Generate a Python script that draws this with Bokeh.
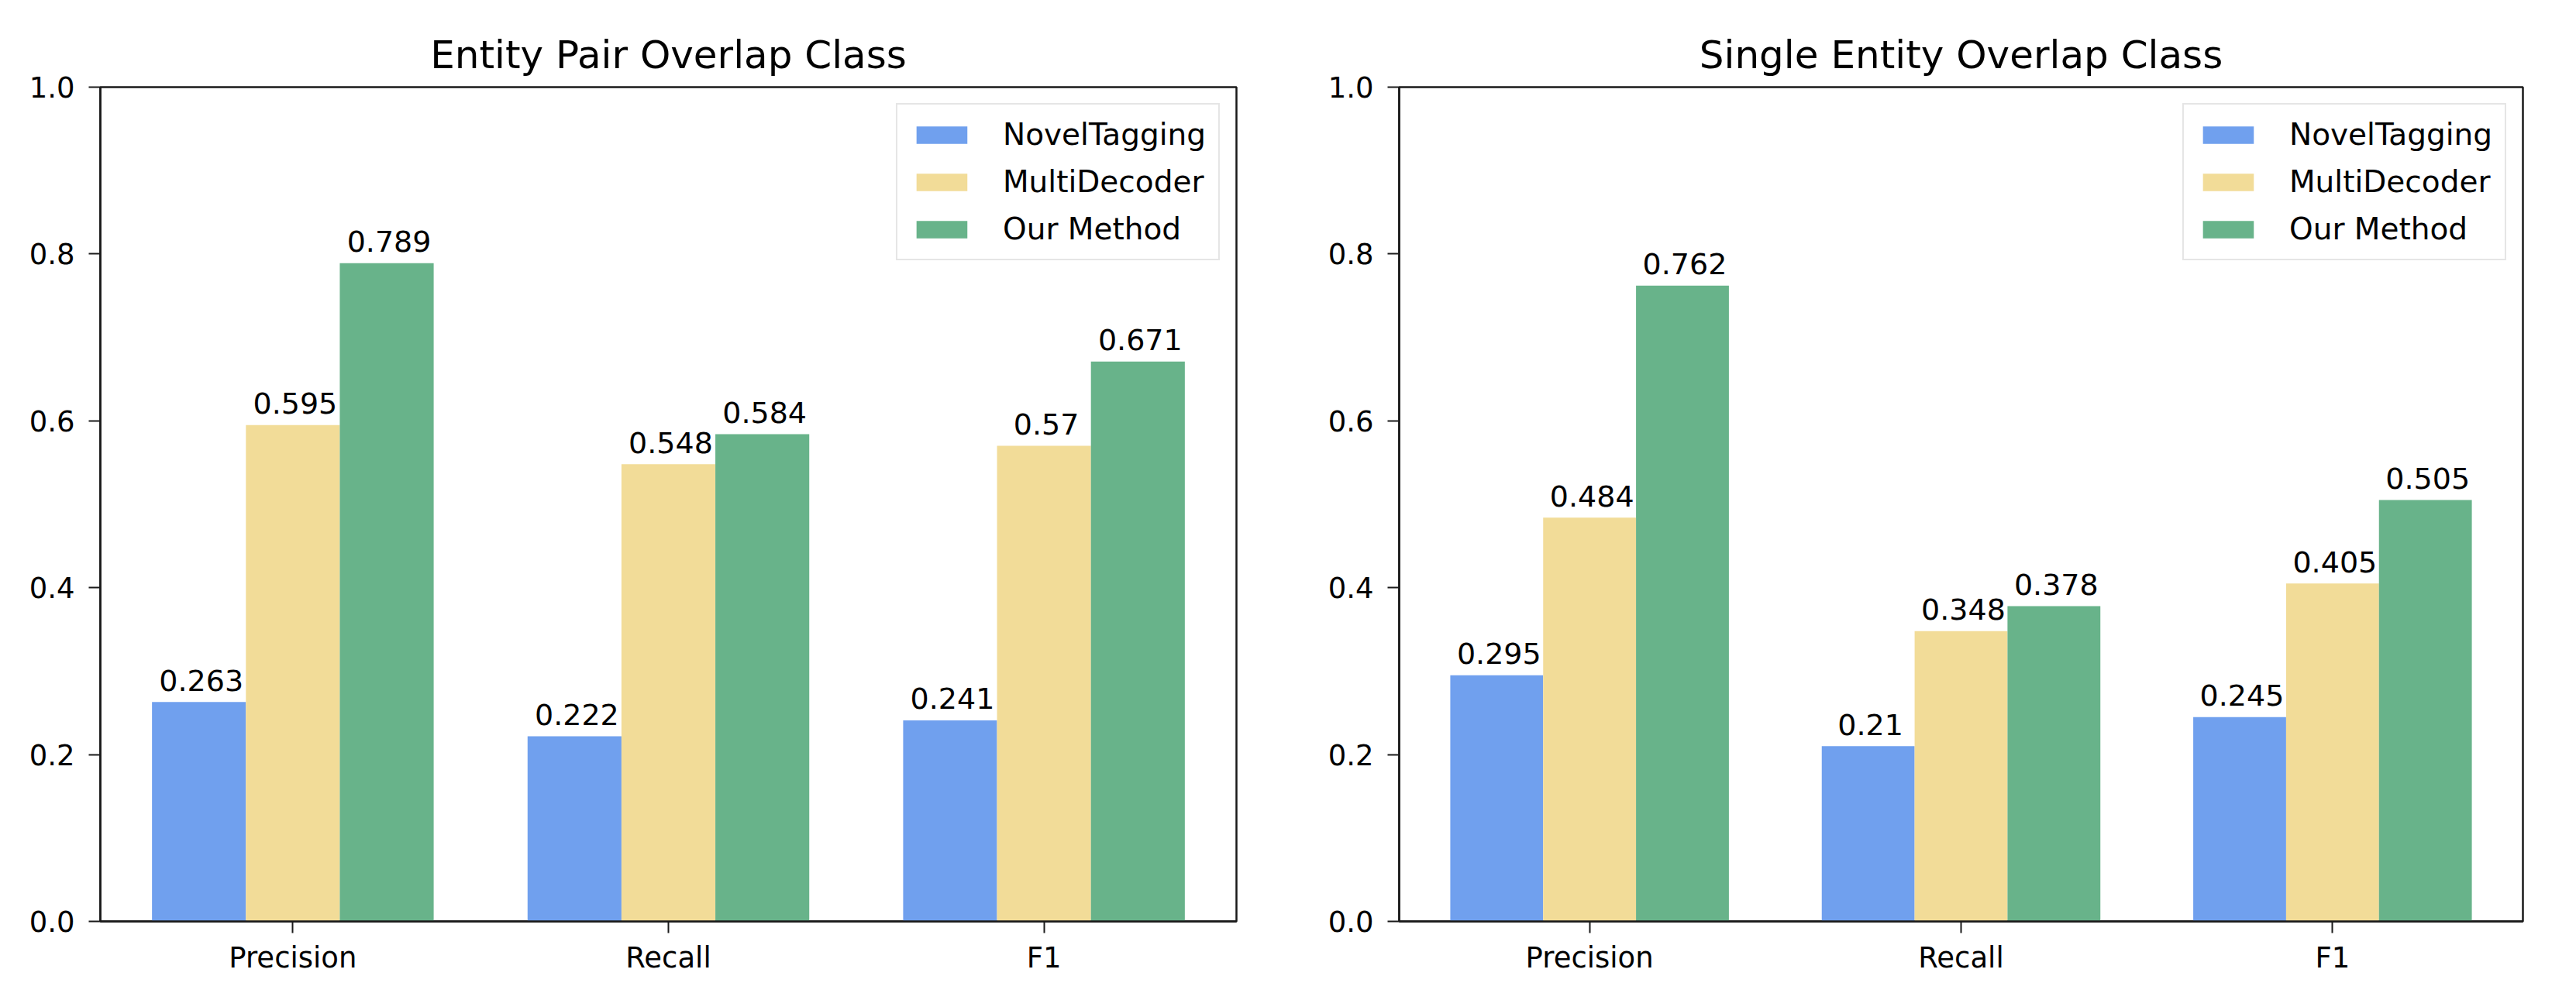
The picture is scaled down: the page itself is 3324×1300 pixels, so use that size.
from bokeh.plotting import figure
from bokeh.models import (Range1d, FixedTicker, PrintfTickFormatter, Legend,
                          LegendItem, ColumnDataSource)
from bokeh.transform import dodge
from bokeh.layouts import row
from bokeh.embed import file_html
from bokeh.resources import INLINE
from bokeh.core.properties import value

# ---- data ----
categories = ["Precision", "Recall", "F1"]
series_names = ["NovelTagging", "MultiDecoder", "Our Method"]

pair_title = "Entity Pair Overlap Class"
pair_novel = [0.263, 0.222, 0.241]
pair_multi = [0.595, 0.548, 0.57]
pair_ours = [0.789, 0.584, 0.671]

single_title = "Single Entity Overlap Class"
single_novel = [0.295, 0.21, 0.245]
single_multi = [0.484, 0.348, 0.405]
single_ours = [0.762, 0.378, 0.505]

y_ticks = [0.0, 0.2, 0.4, 0.6, 0.8, 1.0]

# ---- styles ----
colors = ["#70A0EE", "#F2DC98", "#68B38A"]
FONT = "DejaVu Sans"
BAR_W = 0.25


def make_panel(title, series, width, height, bl, br, bt, bb):
    p = figure(width=width, height=height, output_backend="svg",
               toolbar_location=None, tools="",
               x_range=Range1d(-0.5125, 2.5125), y_range=Range1d(0, 1),
               min_border_left=bl, min_border_right=br,
               min_border_top=bt, min_border_bottom=bb)
    p.background_fill_color = "white"
    p.border_fill_color = "white"
    p.outline_line_color = "#1a1a1a"
    p.outline_line_width = 2.5
    p.xgrid.visible = False
    p.ygrid.visible = False

    p.title.text = title
    p.title.text_font = FONT
    p.title.text_font_size = "50px"
    p.title.text_font_style = "normal"
    p.title.text_color = "black"
    p.title.align = "center"
    p.title.standoff = 26

    idx = list(range(len(categories)))
    items = []
    for i, (name, vals) in enumerate(zip(series_names, series)):
        off = (i - 1) * BAR_W
        src = ColumnDataSource(dict(x=idx, top=vals,
                                    label=[str(v) for v in vals]))
        r = p.vbar(x=dodge("x", off), top="top", bottom=0, width=BAR_W,
                   source=src, fill_color=colors[i], line_color=None)
        p.text(x=dodge("x", off), y="top", text="label", source=src,
               text_align="center", text_baseline="alphabetic",
               x_offset=3, y_offset=-28, text_font=value(FONT),
               text_font_size="38px", text_color="black")
        items.append(LegendItem(label=name, renderers=[r]))

    for ax in (p.xaxis, p.yaxis):
        ax.axis_line_color = "#1a1a1a"
        ax.axis_line_width = 2.5
        ax.major_tick_line_color = "#1a1a1a"
        ax.major_tick_line_width = 2
        ax.major_tick_in = 0
        ax.major_tick_out = 15
        ax.minor_tick_line_color = None
        ax.major_label_text_font = FONT
        ax.major_label_text_font_size = "37px"
        ax.major_label_text_color = "black"

    p.xaxis.ticker = FixedTicker(ticks=idx)
    p.xaxis.major_label_overrides = {i: c for i, c in zip(idx, categories)}
    p.xaxis.major_label_standoff = 10
    p.yaxis.ticker = FixedTicker(ticks=y_ticks)
    p.yaxis.formatter = PrintfTickFormatter(format="%.1f")
    p.yaxis.major_label_standoff = 18

    leg = Legend(items=items, location="top_right")
    leg.label_text_font = FONT
    leg.label_text_font_size = "39px"
    leg.label_text_color = "black"
    leg.glyph_width = 82
    leg.glyph_height = 28
    leg.label_height = 44
    leg.spacing = 16
    leg.padding = 16
    leg.label_standoff = 38
    leg.margin = 21
    leg.border_line_color = "#cccccc"
    leg.border_line_width = 2
    leg.background_fill_alpha = 0.8
    p.add_layout(leg)
    return p


p1 = make_panel(pair_title, [pair_novel, pair_multi, pair_ours],
                1654, 1284, 129, 59, 104, 94)
p2 = make_panel(single_title, [single_novel, single_multi, single_ours],
                1654, 1284, 151, 53, 112, 95)

layout = row(p1, p2)
open("out.html", "w").write(file_html(layout, INLINE))
